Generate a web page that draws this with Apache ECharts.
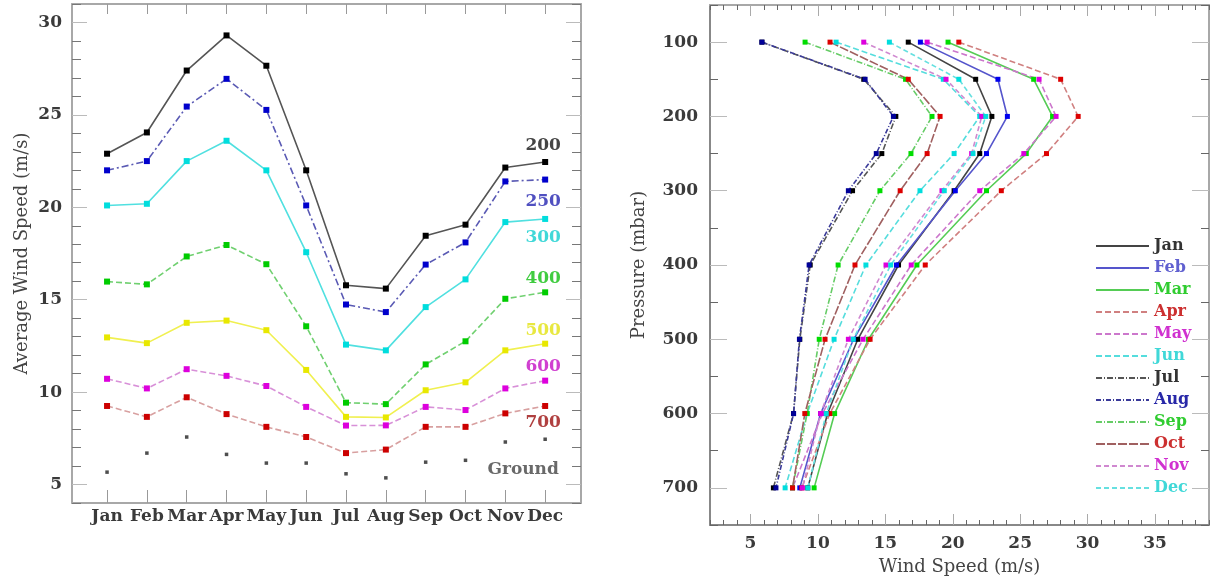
<!DOCTYPE html>
<html><head><meta charset="utf-8">
<script src="https://cdn.jsdelivr.net/npm/echarts@6/dist/echarts.min.js"></script>
<style>html,body{margin:0;padding:0;background:#fff}#c{width:1211px;height:583px}</style>
</head><body><div id="c"></div>
<script>
// ---------------- DATA ----------------
const months = ['Jan','Feb','Mar','Apr','May','Jun','Jul','Aug','Sep','Oct','Nov','Dec'];
const monthIndex = [1,2,3,4,5,6,7,8,9,10,11,12];
const pressures = [100,150,200,250,300,400,500,600,700];
const levelNames = ['200','250','300','400','500','600','700'];
// Monthly average wind speed (m/s) at each pressure level
const lev100 = [16.7,17.6,19.65,20.45,18.1,11.35,5.85,5.85,9.05,10.9,13.4,15.3];
const lev150 = [21.7,23.35,26.0,28.0,26.4,19.3,13.4,13.5,16.5,16.7,19.5,20.45];
const lev200 = [22.9,24.05,27.4,29.3,27.66,22.0,15.78,15.6,18.46,19.06,22.15,22.45];
const lev250 = [22.0,22.5,25.45,26.95,25.27,20.1,14.74,14.33,16.9,18.1,21.4,21.5];
const lev300 = [20.1,20.19,22.5,23.6,22.0,17.57,12.57,12.26,14.6,16.1,19.2,19.37];
const lev400 = [15.98,15.83,17.34,17.96,16.92,13.56,9.43,9.35,11.5,12.75,15.05,15.4];
const lev500 = [12.96,12.65,13.75,13.87,13.35,11.2,8.66,8.63,10.1,10.53,12.26,12.62];
const lev600 = [10.72,10.2,11.24,10.88,10.33,9.2,8.19,8.2,9.2,9.03,10.2,10.62];
const lev700 = [9.25,8.66,9.72,8.81,8.12,7.57,6.7,6.89,8.12,8.12,8.85,9.25];
const ground = [5.67,6.7,7.57,6.63,6.16,6.16,5.58,5.36,6.21,6.31,7.3,7.45];
// tick labels
const leftYTickLabels = [5,10,15,20,25,30];
const rightXTickLabels = [5,10,15,20,25,30,35];
const rightYTickLabels = [100,200,300,400,500,600,700];

// ---------------- STYLE ----------------
const FONT = 'DejaVu Serif';
const TXT = '#3a3a3a';
const leftLevels = [lev200,lev250,lev300,lev400,lev500,lev600,lev700];
const allLevels = [lev100,lev150,lev200,lev250,lev300,lev400,lev500,lev600,lev700];
const leftStyles = [
  {mk:'#000000', ln:'#555555', type:'solid', lab:'#444444', off:[-2,-16]},
  {mk:'#0000cc', ln:'#5a5ab4', type:[7,3,2,3], lab:'#5050c0', off:[-2,22]},
  {mk:'#00dddd', ln:'#50e0e0', type:'solid', lab:'#40d8d8', off:[-2,19]},
  {mk:'#00cc00', ln:'#70d070', type:[6,3], lab:'#40cc40', off:[-2,-14]},
  {mk:'#e8e800', ln:'#f0f050', type:'solid', lab:'#e8e840', off:[-2,-13]},
  {mk:'#dd00dd', ln:'#d890d8', type:[6,3], lab:'#d040d0', off:[-2,-14]},
  {mk:'#cc0000', ln:'#d8a0a0', type:[6,3], lab:'#b04040', off:[-2,17]}
];
const groundStyle = {mk:'#222222', lab:'#444444', off:[-22,30]};
const monthStyles = [
  {mk:'#000000', ln:'#444444', type:'solid', txt:'#333333'},
  {mk:'#0000ee', ln:'#5555cc', type:'solid', txt:'#6060d0'},
  {mk:'#00dd00', ln:'#55cc55', type:'solid', txt:'#30cc30'},
  {mk:'#dd0000', ln:'#d08080', type:[6,3], txt:'#cc3030'},
  {mk:'#dd00dd', ln:'#cc77cc', type:[6,3], txt:'#d030d0'},
  {mk:'#00dddd', ln:'#55dddd', type:[6,3], txt:'#40d8d8'},
  {mk:'#000000', ln:'#555555', type:[6,2,1,2], txt:'#333333'},
  {mk:'#000099', ln:'#3a3a99', type:[5,2,1,2], txt:'#2828a8'},
  {mk:'#00dd00', ln:'#66cc66', type:[6,2,1,2], txt:'#30cc30'},
  {mk:'#dd0000', ln:'#a06060', type:[9,2], txt:'#cc3030'},
  {mk:'#dd00dd', ln:'#d088d0', type:[5,3], txt:'#d030d0'},
  {mk:'#00dddd', ln:'#66e0e0', type:[5,3], txt:'#40d8d8'}
];

function range(a,b,s){const r=[];for(let v=a;v<=b+1e-9;v+=s)r.push(+v.toFixed(6));return r;}

const axLine = {show:true, lineStyle:{color:'#a8a8a8', width:2}};
const axLineDark = {show:true, lineStyle:{color:'#888888', width:2}};
function axis(o){
  return Object.assign({
    type:'value', splitLine:{show:false}, axisLine:{show:false},
    axisLabel:{show:false}, axisTick:{show:false}, scale:false
  }, o);
}
function ticks(vals,len,color){return {show:true, inside:true, length:len, customValues:vals, lineStyle:{color:color,width:1}};}
const labStyle = {color:TXT, fontFamily:FONT, fontSize:17, fontWeight:'bold'};
const nameStyle = {color:'#444', fontFamily:FONT, fontSize:18};

const L = {min:0.12, max:12.9};
const LY = {min:4, max:31};
const R = {min:2, max:39};
const RY = {min:50, max:750};

const xAxes = [
  axis(Object.assign({gridIndex:0, position:'bottom', axisLine:axLine,
    axisTick:ticks(monthIndex,13,'#999'),
    axisLabel:Object.assign({show:true, customValues:monthIndex, margin:5,
      formatter:v=>months[Math.round(v)-1]}, labStyle)}, L)),
  axis(Object.assign({gridIndex:0, position:'top', axisLine:axLine,
    axisTick:ticks(monthIndex,10,'#999')}, L)),
  axis(Object.assign({gridIndex:1, position:'bottom', axisLine:axLineDark,
    axisTick:ticks(range(2,39,1),5,'#666'),
    axisLabel:Object.assign({show:true, customValues:rightXTickLabels, margin:10}, labStyle),
    name:'Wind Speed (m/s)', nameLocation:'middle', nameGap:33,
    nameTextStyle:nameStyle}, R)),
  axis(Object.assign({gridIndex:1, position:'bottom', axisTick:ticks(rightXTickLabels,11,'#aaa')}, R)),
  axis(Object.assign({gridIndex:1, position:'top', axisLine:axLine, axisTick:ticks(range(2,39,1),5,'#666')}, R)),
  axis(Object.assign({gridIndex:1, position:'top', axisTick:ticks(rightXTickLabels,11,'#aaa')}, R))
];
const yAxes = [
  axis(Object.assign({gridIndex:0, position:'left', axisLine:axLine,
    axisTick:ticks(range(4,31,1),9,'#777'),
    axisLabel:Object.assign({show:true, customValues:leftYTickLabels, margin:10}, labStyle),
    name:'Average Wind Speed (m/s)', nameLocation:'middle', nameGap:41,
    nameTextStyle:nameStyle}, LY)),
  axis(Object.assign({gridIndex:0, position:'left', axisTick:ticks(leftYTickLabels,15,'#bbb')}, LY)),
  axis(Object.assign({gridIndex:0, position:'right', axisLine:axLine, axisTick:ticks(range(4,31,1),9,'#777')}, LY)),
  axis(Object.assign({gridIndex:0, position:'right', axisTick:ticks(leftYTickLabels,15,'#bbb')}, LY)),
  axis(Object.assign({gridIndex:1, position:'left', inverse:true, axisLine:axLineDark,
    axisTick:ticks(range(50,750,50),8,'#666'),
    axisLabel:Object.assign({show:true, customValues:rightYTickLabels, margin:12}, labStyle),
    name:'Pressure (mbar)', nameLocation:'middle', nameGap:62,
    nameTextStyle:nameStyle}, RY)),
  axis(Object.assign({gridIndex:1, position:'left', inverse:true, axisTick:ticks(rightYTickLabels,17,'#bbb')}, RY)),
  axis(Object.assign({gridIndex:1, position:'right', inverse:true, axisLine:axLine, axisTick:ticks(range(50,750,50),8,'#666')}, RY)),
  axis(Object.assign({gridIndex:1, position:'right', inverse:true, axisTick:ticks(rightYTickLabels,17,'#bbb')}, RY))
];

const series = [];
leftLevels.forEach((lev,k)=>{
  const st = leftStyles[k];
  series.push({
    type:'line', name:'L'+levelNames[k], xAxisIndex:0, yAxisIndex:0,
    symbol:'rect', symbolSize:6, showSymbol:true,
    itemStyle:{color:st.mk}, lineStyle:{color:st.ln, width:1.6, type:st.type},
    data: lev.map((v,i)=>{
      const item = {value:[monthIndex[i], v]};
      if (i===lev.length-1) item.label = {show:true, position:'inside', offset:st.off,
        formatter:levelNames[k], color:st.lab, fontFamily:FONT, fontSize:17, fontWeight:'bold'};
      return item;
    }),
    z:3
  });
});
series.push({
  type:'scatter', name:'Ground', xAxisIndex:0, yAxisIndex:0, symbol:'rect', symbolSize:3.5,
  itemStyle:{color:groundStyle.mk},
  data: ground.map((v,i)=>{
    const item = {value:[monthIndex[i], v]};
    if (i===ground.length-1) item.label = {show:true, position:'inside', offset:groundStyle.off,
      formatter:'Ground', color:groundStyle.lab, fontFamily:FONT, fontSize:17, fontWeight:'bold'};
    return item;
  })
});
months.forEach((m,i)=>{
  const st = monthStyles[i];
  series.push({
    type:'line', name:m, xAxisIndex:2, yAxisIndex:4,
    symbol:'rect', symbolSize:5, showSymbol:true,
    itemStyle:{color:st.mk}, lineStyle:{color:st.ln, width:1.6, type:st.type},
    data: pressures.map((p,k)=>[allLevels[k][i], p]),
    z:3
  });
});

const chart = echarts.init(document.getElementById('c'), null, {renderer:'canvas'});
chart.setOption({
  animation:false,
  backgroundColor:'#ffffff',
  grid:[
    {left:72, top:4, width:509, height:499},
    {left:710, top:5, width:499, height:520}
  ],
  xAxis:xAxes, yAxis:yAxes,
  legend:{
    orient:'vertical', left:1090, top:232, itemWidth:53, itemHeight:4, itemGap:4,
    selectedMode:false, itemStyle:{opacity:0},
    textStyle:{fontFamily:FONT, fontSize:16, fontWeight:'bold', lineHeight:18},
    data: months.map((m,i)=>({name:m, textStyle:{color:monthStyles[i].txt}}))
  },
  series:series
});
</script></body></html>
